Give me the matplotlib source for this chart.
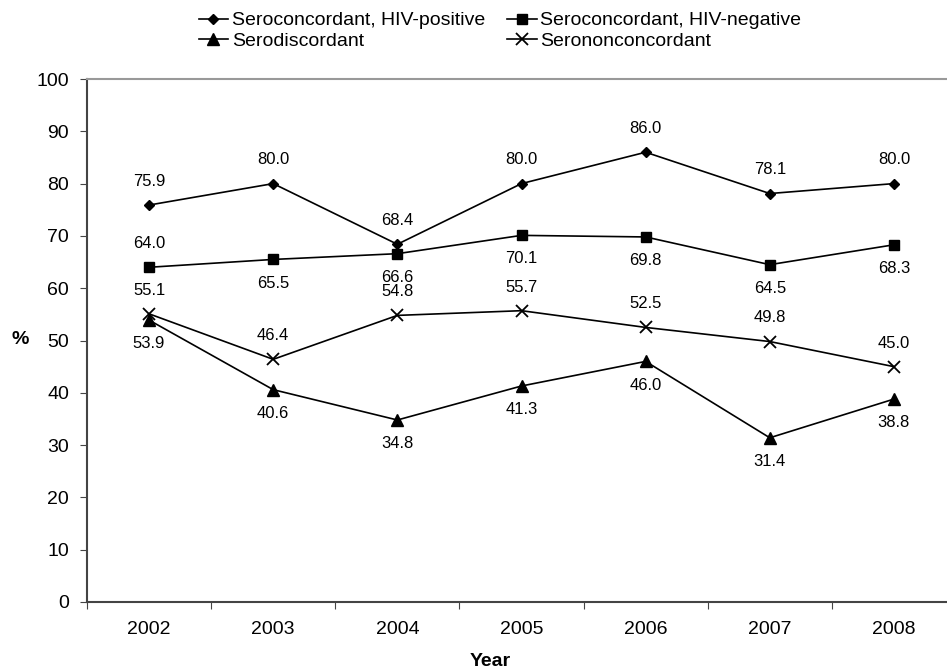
import matplotlib.pyplot as plt

plt.rcParams['font.family'] = ['Liberation Sans', 'DejaVu Sans']

years = ['2002', '2003', '2004', '2005', '2006', '2007', '2008']
hiv_pos = [75.9, 80.0, 68.4, 80.0, 86.0, 78.1, 80.0]
hiv_neg = [64.0, 65.5, 66.6, 70.1, 69.8, 64.5, 68.3]
serodisc = [53.9, 40.6, 34.8, 41.3, 46.0, 31.4, 38.8]
seronon = [55.1, 46.4, 54.8, 55.7, 52.5, 49.8, 45.0]

# label placement: +1 above the point, -1 below
pos_side = [1, 1, 1, 1, 1, 1, 1]
neg_side = [1, -1, -1, -1, -1, -1, -1]
disc_side = [-1, -1, -1, -1, -1, -1, -1]
non_side = [1, 1, 1, 1, 1, 1, 1]

fig = plt.figure(figsize=(9.47, 6.71), dpi=100)
ax = fig.add_axes([87 / 947, 1 - 602 / 671, (956 - 87) / 947, (602 - 79) / 671])

x = list(range(len(years)))
series = [
    ('Seroconcordant, HIV-positive', hiv_pos, pos_side, dict(marker='D', ms=5)),
    ('Seroconcordant, HIV-negative', hiv_neg, neg_side, dict(marker='s', ms=7)),
    ('Serodiscordant', serodisc, disc_side, dict(marker='^', ms=8)),
    ('Serononconcordant', seronon, non_side, dict(marker='x', ms=8, mew=1.3)),
]
handles = []
for name, vals, side, style in series:
    h, = ax.plot(x, vals, color='black', lw=1.2, label=name, **style)
    handles.append(h)
    for xi, v, s in zip(x, vals, side):
        ax.annotate(f'{v:.1f}', (xi, v), xytext=(0, 17 * s), textcoords='offset points',
                    ha='center', va='center', fontsize=12)

ax.set_xlim(-0.5, 6.5)
ax.set_ylim(0, 100)
ax.set_yticks(range(0, 101, 10))
ax.set_xticks([i - 0.5 for i in range(len(years))])
ax.set_xticklabels([])
ax.set_xticks(x, minor=True)
ax.set_xticklabels(years, minor=True)
ax.tick_params(axis='x', which='minor', length=0, pad=14, labelsize=14)
ax.tick_params(axis='x', which='major', length=5, color='#444444')
ax.tick_params(axis='y', length=5, labelsize=14, color='#444444', pad=8)

ax.spines['right'].set_visible(False)
ax.spines['top'].set_color('#999999')
ax.spines['top'].set_linewidth(1.5)
for sp in ['left', 'bottom']:
    ax.spines[sp].set_color('#444444')
    ax.spines[sp].set_linewidth(1.5)

fig.text(20 / 947, 1 - 340 / 671, '%', fontsize=14, fontweight='bold', ha='center', va='center')
fig.text(490 / 947, 1 - 661 / 671, 'Year', fontsize=14, fontweight='bold', ha='center', va='center')

# legend fills column-wise, so order handles to read row by row
order = [0, 2, 1, 3]
fig.legend([handles[i] for i in order], [series[i][0] for i in order],
           loc='upper left', bbox_to_anchor=(191 / 947, 1 - 4 / 671), ncol=2, frameon=False,
           fontsize=14, handlelength=1.5, handletextpad=0.2, columnspacing=1.15,
           labelspacing=0.15, borderaxespad=0)

fig.savefig('out.png', dpi=100)
